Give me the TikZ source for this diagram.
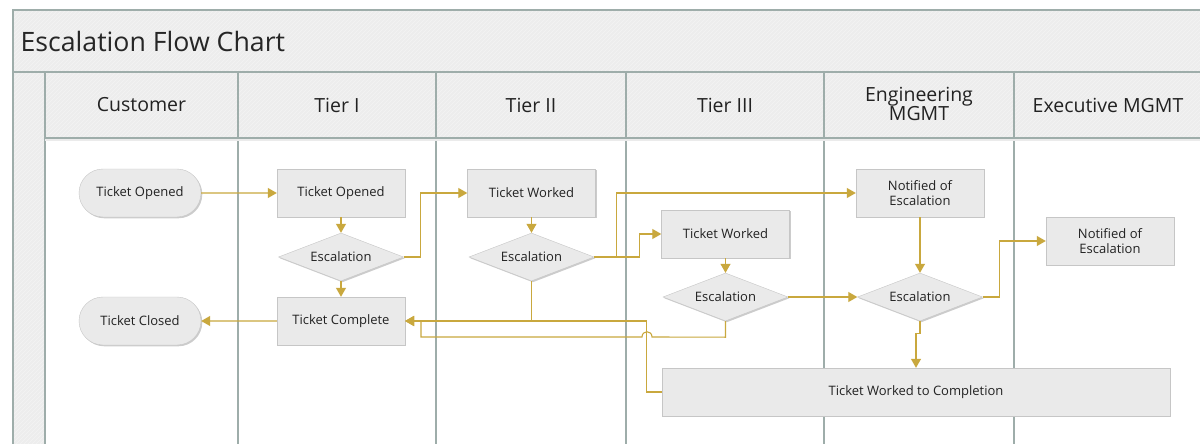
\documentclass[tikz,border=0pt]{standalone}
\usepackage{fontspec}
\setmainfont{Open Sans}
\usetikzlibrary{shapes.geometric,shapes.misc,shadows,patterns.meta,calc,arrows.meta}
\definecolor{gold}{HTML}{C9A83E}
\definecolor{lanegray}{HTML}{9EADAA}
\definecolor{boxfill}{HTML}{EAEAEA}
\definecolor{boxline}{HTML}{C6C6C6}
\definecolor{hdrfill}{HTML}{EDEDED}
\definecolor{hatchc}{HTML}{F4F4F4}
\definecolor{txt}{HTML}{222222}
\tikzdeclarepattern{name=faintlines, type=uncolored,
  bottom left={(-.1pt,-.1pt)}, top right={(4.1pt,4.1pt)}, tile size={(4pt,4pt)},
  code={\draw[line width=0.6pt] (0,0)--(4pt,4pt);}}
\tikzset{
  box/.style={rectangle, draw=boxline, fill=boxfill,
    minimum width=128pt, minimum height=48pt, inner sep=2pt,
    font=\fontsize{13}{15.5}\selectfont, text=txt, align=center,
    drop shadow={shadow xshift=1.3pt, shadow yshift=-1.3pt, fill=black, opacity=0.2}},
  term/.style={box, rounded rectangle, minimum width=126pt},
  dec/.style={box, diamond, minimum width=125pt, minimum height=48pt, aspect=2.6, inner sep=0pt},
  flow/.style={draw=gold, line width=1.1pt, -{Triangle[length=9pt,width=10pt]}},
  hdr/.style={font=\fontsize{19.5}{22}\selectfont, text=txt, align=center},
  band/.style={preaction={fill=hdrfill}, pattern=faintlines, pattern color=hatchc},
  lane/.style={draw=lanegray, line width=1.2pt}
}
\begin{document}
\begin{tikzpicture}[x=1pt,y=-1pt]
\useasboundingbox (0,0) rectangle (1200,444);
\fill[white] (0,0) rectangle (1200,444);
\begin{scope}
\clip (0,0) rectangle (1200,444);
\path[band] (13,10) rectangle (1210,72);
\path[band] (13,72) rectangle (45,460);
\path[band] (45,72) rectangle (1210,138);
\fill[white] (45,138) rectangle (1210,460);
\draw[lane] (13,460) -- (13,10) -- (1210,10);
\draw[lane] (13,72) -- (1210,72);
\draw[lane] (45,72) -- (45,460);
\foreach \x in {238,436,626,824,1014} \draw[lane] (\x,72) -- (\x,460);
\draw[draw=black!8, line width=2pt] (45,140) -- (1210,140);
\draw[draw=lanegray, line width=1.3pt] (45,138) -- (1210,138);
\end{scope}

\node[anchor=west, font=\fontsize{26.7}{30}\selectfont, text=black!85] (title) at (17,41) {Escalation Flow Chart};
\node[hdr] (hc) at (141.5,105) {Customer};
\node[hdr] (h1) at (337,105) {Tier I};
\node[hdr] (h2) at (531,105) {Tier II};
\node[hdr] (h3) at (725,105) {Tier III};
\node[hdr] (h4) at (919,104) {Engineering\\[-3pt]MGMT};
\node[hdr] (h5) at (1108,105) {Executive MGMT};

\node[term] (c1) at (140,193) {Ticket Opened};
\node[term] (c2) at (140,321) {Ticket Closed};
\node[box] (t1) at (341,193) {Ticket Opened};
\node[dec] (e1) at (341,257) {Escalation};
\node[box] (tc) at (341,321) {Ticket Complete};
\node[box] (t2) at (531.5,193) {Ticket Worked};
\node[dec] (e2) at (531.5,257) {Escalation};
\node[box] (t3) at (725.5,234) {Ticket Worked};
\node[dec] (e3) at (725.5,297) {Escalation};
\node[box] (n4) at (920,193) {Notified of\\Escalation};
\node[dec] (e4) at (920,297) {Escalation};
\node[box] (n5) at (1110,241) {Notified of\\Escalation};
\node[box, minimum width=508pt] (twc) at (916,392) {Ticket Worked to Completion};

\draw[flow] (c1) -- (t1);
\draw[flow] (t1) -- (e1);
\draw[flow] (e1) -- (tc);
\draw[flow] (tc) -- (c2);
\draw[flow] (e1.east) -- ++(17,0) |- (t2.west);
\draw[flow] (t2) -- (e2);
\draw[flow] (e2.east) -- ++(22,0) |- (n4.west);
\draw[flow] (e2.east) -- ++(45,0) |- (t3.west);
\draw[flow] (t3) -- (e3);
\draw[flow] (e3) -- (e4);
\draw[flow] (n4) -- (e4);
\draw[flow] (e4.east) -- ++(17,0) |- (n5.west);
\draw[flow] (e4.south) -- ++(0,12) -| (twc.north);
\draw[flow] (e2.south) |- (tc.east);
\draw[flow] (twc.west) -- ++(-15,0) |- (tc.east);
\draw[flow] (e3.south) -- ++(0,16) coordinate (hopstart)
  -- (652,337) .. controls (652,330) and (642,330) .. (642,337)
  -- (421,337) -- (421,321) -- (tc.east);
\end{tikzpicture}
\end{document}
